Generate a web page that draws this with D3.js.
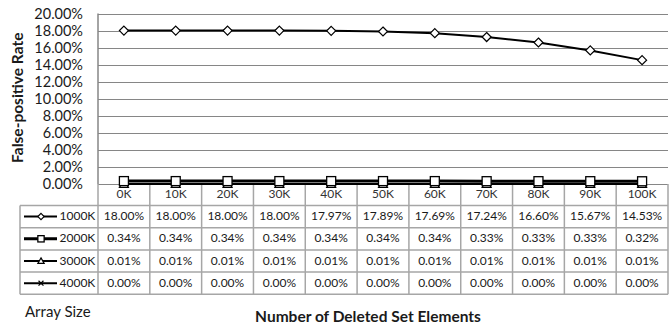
<!DOCTYPE html>
<html>
<head>
<meta charset="utf-8">
<script src="https://cdn.jsdelivr.net/npm/d3@7"></script>
<style>
  html, body { margin: 0; padding: 0; background: #fff; }
  svg { display: block; font-family: Lato, "Open Sans", sans-serif; }
</style>
</head>
<body>
<svg id="chart" width="672" height="329"></svg>
<script>
// Number of deleted set elements (x categories)
const categories = ["0K", "10K", "20K", "30K", "40K", "50K", "60K", "70K", "80K", "90K", "100K"];
// Array sizes (series names)
const seriesNames = ["1000K", "2000K", "3000K", "4000K"];
// False-positive rate (%) per array size
const fpr1000K = [18.00, 18.00, 18.00, 18.00, 17.97, 17.89, 17.69, 17.24, 16.60, 15.67, 14.53];
const fpr2000K = [0.34, 0.34, 0.34, 0.34, 0.34, 0.34, 0.34, 0.33, 0.33, 0.33, 0.32];
const fpr3000K = [0.01, 0.01, 0.01, 0.01, 0.01, 0.01, 0.01, 0.01, 0.01, 0.01, 0.01];
const fpr4000K = [0.00, 0.00, 0.00, 0.00, 0.00, 0.00, 0.00, 0.00, 0.00, 0.00, 0.00];
// Y-axis ticks (%)
const yTicks = [0, 2, 4, 6, 8, 10, 12, 14, 16, 18, 20];

const seriesValues = [fpr1000K, fpr2000K, fpr3000K, fpr4000K];
const seriesStyle = [
  { marker: "diamond", width: 2 },
  { marker: "square", width: 3 },
  { marker: "triangle", width: 2 },
  { marker: "cross", width: 2 }
];

const svg = d3.select("#chart");
const plotLeft = 98, plotRight = 668, plotTop = 13.5, plotBottom = 184;
const tableLeft = 20;
const catRowH = 21.5, rowH = 22.2;
const gridColor = "#868686", tableColor = "#a6a6a6", textColor = "#1a1a1a";
const cellFont = 12;

const x = d3.scaleBand().domain(categories).range([plotLeft, plotRight]);
const y = d3.scaleLinear().domain([0, 20]).range([plotBottom, plotTop]);
const rowY = d3.scaleBand().domain(seriesNames)
  .range([plotBottom + catRowH, plotBottom + catRowH + rowH * seriesNames.length]);

// Horizontal gridlines
svg.append("g").selectAll("line").data(yTicks).join("line")
  .attr("x1", plotLeft).attr("x2", plotRight)
  .attr("y1", d => Math.round(y(d)) + 0.5).attr("y2", d => Math.round(y(d)) + 0.5)
  .attr("stroke", gridColor).attr("stroke-width", 1);

// Y-axis tick labels
const yAxis = d3.axisLeft(y).tickValues(yTicks).tickSize(0).tickPadding(15)
  .tickFormat(d => d.toFixed(2) + "%");
const yg = svg.append("g").attr("transform", `translate(${plotLeft},0)`).call(yAxis);
yg.select(".domain").remove();
yg.selectAll("text").attr("font-size", 14.5).attr("fill", textColor)
  .attr("font-family", "Lato, sans-serif");

// Y-axis title
svg.append("text")
  .attr("transform", `translate(19,${(plotTop + plotBottom) / 2 - 1}) rotate(-90)`)
  .attr("text-anchor", "middle").attr("dominant-baseline", "middle")
  .attr("font-weight", "bold").attr("font-size", 15.5).attr("fill", textColor)
  .text("False-positive Rate");

// Data table grid
const tableBottom = rowY.range()[1];
const tg = svg.append("g").attr("stroke", tableColor).attr("stroke-width", 1.5);
// vertical column separators (through category row and data rows)
const colEdges = categories.map(c => x(c)).concat([plotRight]);
tg.selectAll("line.v").data(colEdges).join("line")
  .attr("x1", d => d).attr("x2", d => d)
  .attr("y1", plotBottom).attr("y2", tableBottom);
tg.append("line").attr("x1", tableLeft).attr("x2", tableLeft)
  .attr("y1", plotBottom + catRowH).attr("y2", tableBottom);
// horizontal row separators
const rowEdges = seriesNames.map(s => rowY(s)).concat([tableBottom]);
tg.selectAll("line.h").data(rowEdges).join("line")
  .attr("x1", tableLeft).attr("x2", plotRight)
  .attr("y1", d => d).attr("y2", d => d);

// Plot left border
svg.append("line").attr("x1", plotLeft).attr("x2", plotLeft)
  .attr("y1", plotTop).attr("y2", plotBottom)
  .attr("stroke", gridColor).attr("stroke-width", 1.5);

// Category labels
svg.append("g").selectAll("text").data(categories).join("text")
  .attr("x", d => x(d) + x.bandwidth() / 2).attr("y", plotBottom + 14)
  .attr("text-anchor", "middle").attr("font-size", cellFont).attr("fill", "#333")
  .text(d => d);

// Value cells
seriesNames.forEach((name, si) => {
  svg.append("g").selectAll("text").data(seriesValues[si]).join("text")
    .attr("x", (d, i) => x(categories[i]) + x.bandwidth() / 2)
    .attr("y", rowY(name) + rowH / 2 + 0.5)
    .attr("dominant-baseline", "middle")
    .attr("text-anchor", "middle").attr("font-size", cellFont).attr("fill", textColor)
    .text(d => d.toFixed(2) + "%");
});

// Marker drawing
function drawMarker(g, type, cx, cy, scale) {
  const s = scale || 1;
  if (type === "diamond") {
    g.append("path")
      .attr("d", `M${cx},${cy - 4.5 * s}L${cx + 4.5 * s},${cy}L${cx},${cy + 4.5 * s}L${cx - 4.5 * s},${cy}Z`)
      .attr("fill", "#fff").attr("stroke", "#000").attr("stroke-width", 1.2);
  } else if (type === "square") {
    g.append("rect").attr("x", cx - 4.5 * s).attr("y", cy - 4.5 * s)
      .attr("width", 9 * s).attr("height", 9 * s)
      .attr("fill", "#fff").attr("stroke", "#000").attr("stroke-width", 1.3);
  } else if (type === "triangle") {
    g.append("path")
      .attr("d", `M${cx},${cy - 4.5 * s}L${cx + 4.5 * s},${cy + 3.5 * s}L${cx - 4.5 * s},${cy + 3.5 * s}Z`)
      .attr("fill", "#fff").attr("stroke", "#000").attr("stroke-width", 1.2);
  } else if (type === "cross") {
    g.append("path")
      .attr("d", `M${cx - 3.5 * s},${cy - 3.5 * s}L${cx + 3.5 * s},${cy + 3.5 * s}M${cx + 3.5 * s},${cy - 3.5 * s}L${cx - 3.5 * s},${cy + 3.5 * s}`)
      .attr("fill", "none").attr("stroke", "#000").attr("stroke-width", 1.2);
  }
}

// Series lines and markers (draw low series first so 1000K sits on top)
const line = d3.line()
  .x((d, i) => x(categories[i]) + x.bandwidth() / 2)
  .y(d => y(d));
const series = svg.append("g");
for (let si = seriesNames.length - 1; si >= 0; si--) {
  const g = series.append("g");
  g.append("path").datum(seriesValues[si]).attr("d", line)
    .attr("fill", "none").attr("stroke", "#000")
    .attr("stroke-width", seriesStyle[si].width);
  seriesValues[si].forEach((v, i) => {
    drawMarker(g, seriesStyle[si].marker, x(categories[i]) + x.bandwidth() / 2, y(v));
  });
}

// Legend keys in the table's first column
seriesNames.forEach((name, si) => {
  const cy = rowY(name) + rowH / 2;
  const g = svg.append("g");
  g.append("line").attr("x1", 24).attr("x2", 57).attr("y1", cy).attr("y2", cy)
    .attr("stroke", "#000").attr("stroke-width", seriesStyle[si].width);
  drawMarker(g, seriesStyle[si].marker, 41, cy, 0.7);
  g.append("text").attr("x", 59.5).attr("y", cy + 0.5)
    .attr("dominant-baseline", "middle").attr("font-size", cellFont).attr("fill", textColor)
    .text(name);
});

// Legend title and x-axis title
svg.append("text").attr("x", 25).attr("y", 317)
  .attr("font-size", 15).attr("fill", textColor).text("Array Size");
svg.append("text").attr("x", 368).attr("y", 322)
  .attr("text-anchor", "middle").attr("font-weight", "bold").attr("font-size", 15.5)
  .attr("fill", textColor).text("Number of Deleted Set Elements");
</script>
</body>
</html>
